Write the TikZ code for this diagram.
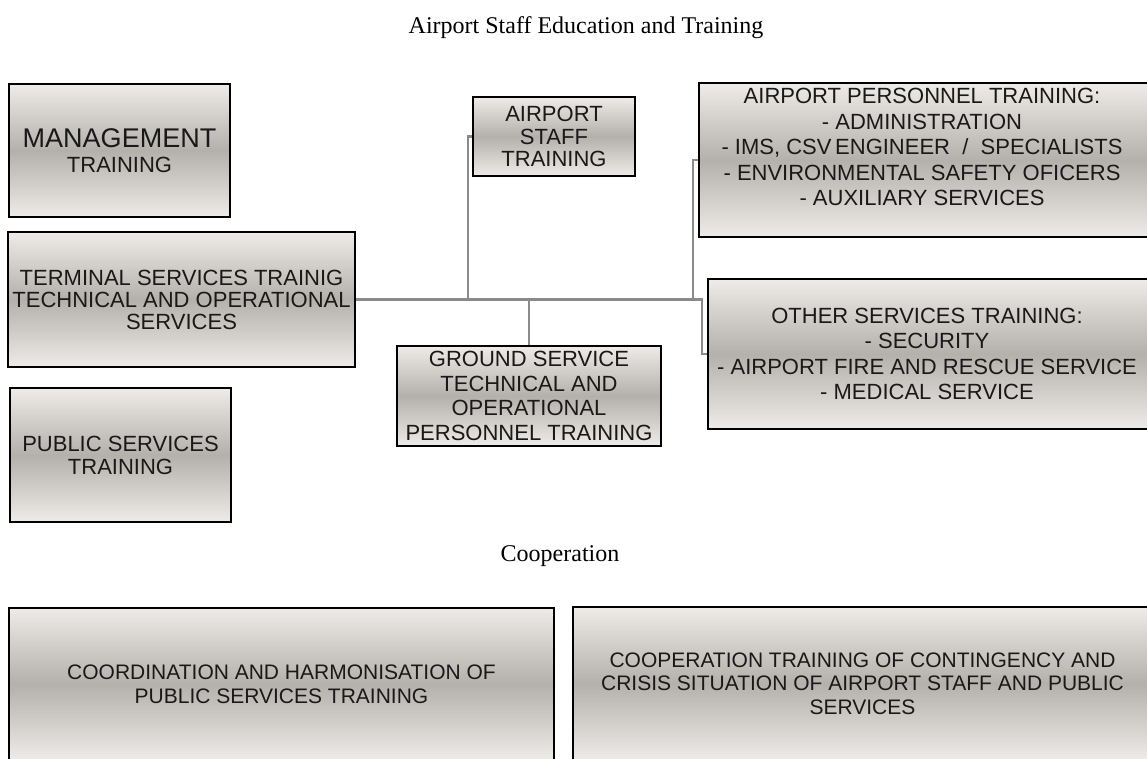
\documentclass[tikz,border=0pt]{standalone}
\usepackage{fontspec}
\setmainfont{Liberation Serif}
\newfontfamily\boxfont{Liberation Sans}
\usetikzlibrary{positioning}

\definecolor{boxlight}{RGB}{238,235,232}
\definecolor{boxdark}{RGB}{180,176,172}
\definecolor{linkgray}{RGB}{138,138,138}

\begin{document}
\begin{tikzpicture}[x=1pt,y=-1pt,
    box/.style={draw=black,line width=1.5pt,top color=boxlight,bottom color=boxlight,
      middle color=boxdark,align=center,inner sep=0pt,text=black!90,
      font=\boxfont\fontsize{22}{25}\selectfont},
    boxtext/.style={align=center,inner sep=0pt,text=black!90,font=\boxfont\fontsize{22}{25.5}\selectfont},
    link/.style={draw=linkgray,line width=2.3pt},
    heading/.style={anchor=base,inner sep=0pt,font=\fontsize{24}{28}\selectfont}]
  \useasboundingbox (0,0) rectangle (1147,758);

  % headings
  \node[heading] (title) at (586,33) {Airport Staff Education and Training};
  \node[heading] (coophead) at (560,561) {Cooperation};

  % left column
  \node[box,minimum width=221,minimum height=133] (mgmt) at (119.5,150.5)
    {{\fontsize{27}{27}\selectfont MANAGEMENT}\\TRAINING};
  \node[box,minimum width=347,minimum height=135,font=\boxfont\fontsize{22}{22}\selectfont] (terminal) at (181.5,299.5)
    {TERMINAL SERVICES TRAINIG\\TECHNICAL AND OPERATIONAL\\SERVICES};
  \node[box,minimum width=221,minimum height=134,font=\boxfont\fontsize{22}{23}\selectfont] (public) at (120.5,455)
    {PUBLIC SERVICES\\TRAINING};

  % middle column
  \node[box,minimum width=162,minimum height=79,font=\boxfont\fontsize{22}{22.7}\selectfont] (staff) at (554,136.5)
    {AIRPORT\\STAFF\\TRAINING};
  \node[box,minimum width=264,minimum height=100,font=\boxfont\fontsize{22}{24.5}\selectfont] (ground) at (529,396)
    {GROUND SERVICE\\TECHNICAL AND\\OPERATIONAL\\PERSONNEL TRAINING};

  % right column
  \node[box,minimum width=453,minimum height=154] (personnel) at (925.5,160) {};
  \node[boxtext] (personneltext) at (922,147)
    {AIRPORT PERSONNEL TRAINING:\\- ADMINISTRATION\\- IMS, CSV\,ENGINEER \ / \ SPECIALISTS\\- ENVIRONMENTAL SAFETY OFICERS\\- AUXILIARY SERVICES};
  \node[box,minimum width=444,minimum height=150] (other) at (930,354) {};
  \node[boxtext] (othertext) at (927,354)
    {OTHER SERVICES TRAINING:\\- SECURITY\\- AIRPORT FIRE AND RESCUE SERVICE\\- MEDICAL SERVICE};

  % cooperation row
  \node[box,minimum width=545,minimum height=152,font=\boxfont\fontsize{21}{24}\selectfont] (coord) at (281.5,684)
    {COORDINATION AND HARMONISATION OF\\PUBLIC SERVICES TRAINING};
  \node[box,minimum width=579,minimum height=153,font=\boxfont\fontsize{21}{23.5}\selectfont] (crisis) at (862.5,683.5)
    {COOPERATION TRAINING OF CONTINGENCY AND\\CRISIS SITUATION OF AIRPORT STAFF AND PUBLIC\\SERVICES};

  % connectors
  \coordinate (hub) at (693,299.5);
  \coordinate (jstaff) at (468,299.5);
  \coordinate (jground) at (529,299.5);
  \coordinate (jother) at (702,299.5);
  \draw[link] (terminal.east) -- (hub);
  \draw[link] (jstaff) |- (staff.west);
  \draw[link] (jground) -- (ground.north);
  \draw[link] (hub) |- (personnel.west);
  \draw[link] (hub) -- (jother) |- (other.west);
\end{tikzpicture}
\end{document}
